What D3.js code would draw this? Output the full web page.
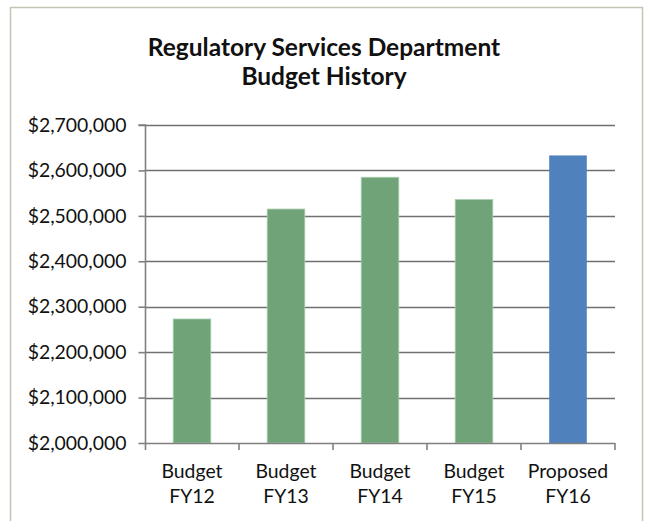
<!DOCTYPE html>
<html>
<head>
<meta charset="utf-8">
<script src="https://cdn.jsdelivr.net/npm/d3@7"></script>
<style>
  html, body { margin: 0; padding: 0; background: #fff; }
  svg { display: block; }
  text { font-family: Lato, "Open Sans", sans-serif; fill: #111; }
</style>
</head>
<body>
<svg id="chart" width="645" height="521"></svg>
<script>
// Budget figures by fiscal year
const categories = ["Budget FY12", "Budget FY13", "Budget FY14", "Budget FY15", "Proposed FY16"];
const values = [2273000, 2515000, 2585000, 2536000, 2633000];
const barColors = ["#71a378", "#71a378", "#71a378", "#71a378", "#4f81bd"];
const yTicks = [2000000, 2100000, 2200000, 2300000, 2400000, 2500000, 2600000, 2700000];
const titleLines = ["Regulatory Services Department", "Budget History"];

const svg = d3.select("#chart");
const W = 645, H = 521;

// chart frame
svg.append("rect")
  .attr("x", 10.5).attr("y", 7.5)
  .attr("width", 632).attr("height", H + 10)
  .attr("fill", "#fff")
  .attr("stroke", "#c4c4b4").attr("stroke-width", 1.5);

const plot = { left: 145, right: 615, top: 125, bottom: 443 };

const x = d3.scaleBand()
  .domain(categories)
  .range([plot.left, plot.right])
  .paddingInner(0.6)
  .paddingOuter(0.3);

const y = d3.scaleLinear()
  .domain([2000000, 2700000])
  .range([plot.bottom, plot.top]);

// title
const title = svg.append("text")
  .attr("text-anchor", "middle")
  .style("font-weight", "bold")
  .style("font-size", "24.5px");
titleLines.forEach((line, i) => {
  title.append("tspan")
    .attr("x", 324)
    .attr("y", 56 + i * 29)
    .text(line);
});

// horizontal gridlines
svg.append("g")
  .selectAll("line")
  .data(yTicks.filter(d => d > 2000000))
  .join("line")
  .attr("x1", plot.left).attr("x2", plot.right)
  .attr("y1", d => Math.round(y(d)) + 0.5)
  .attr("y2", d => Math.round(y(d)) + 0.5)
  .attr("stroke", "#707070")
  .attr("stroke-width", 1.6);

// bars
svg.append("g")
  .selectAll("rect")
  .data(values)
  .join("rect")
  .attr("x", (d, i) => x(categories[i]))
  .attr("y", d => y(d))
  .attr("width", x.bandwidth())
  .attr("height", d => plot.bottom - y(d))
  .attr("fill", (d, i) => barColors[i])
  .attr("stroke", (d, i) => i < 4 ? "#a9cfae" : "none")
  .attr("stroke-width", 0.8);

// y axis
const yAxis = d3.axisLeft(y)
  .tickValues(yTicks)
  .tickSize(7)
  .tickPadding(12)
  .tickFormat(d => "$" + d3.format(",")(d));
const gy = svg.append("g")
  .attr("transform", `translate(${plot.left + 0.5},0)`)
  .call(yAxis);
gy.select(".domain").attr("d", `M-7,${plot.top}H0V${plot.bottom + 7}`);
gy.selectAll(".tick line").attr("stroke", "#808080").attr("stroke-width", 1.6);
gy.select(".domain").attr("stroke", "#808080").attr("stroke-width", 1.6);
gy.selectAll(".tick text")
  .style("font-size", "19.4px")
  .style("font-family", "Lato, sans-serif")
  .attr("fill", "#111");

// x axis: baseline with boundary ticks between categories
const gx = svg.append("g");
gx.append("line")
  .attr("x1", plot.left).attr("x2", plot.right)
  .attr("y1", plot.bottom + 0.5).attr("y2", plot.bottom + 0.5)
  .attr("stroke", "#808080").attr("stroke-width", 1.6);
const step = x.step();
gx.selectAll(".bt")
  .data(categories)
  .join("line")
  .attr("class", "bt")
  .attr("x1", d => x(d) + x.bandwidth() + (step - x.bandwidth()) / 2)
  .attr("x2", d => x(d) + x.bandwidth() + (step - x.bandwidth()) / 2)
  .attr("y1", plot.bottom)
  .attr("y2", plot.bottom + 7)
  .attr("stroke", "#808080").attr("stroke-width", 1.6);

// category labels on two lines
const labels = gx.selectAll(".cl")
  .data(categories)
  .join("text")
  .attr("class", "cl")
  .attr("text-anchor", "middle")
  .style("font-size", "19.4px");
labels.each(function(d) {
  const parts = d.split(" ");
  const t = d3.select(this);
  parts.forEach((p, i) => {
    t.append("tspan")
      .attr("x", x(d) + x.bandwidth() / 2)
      .attr("y", 478 + i * 25)
      .text(p);
  });
});
</script>
</body>
</html>
